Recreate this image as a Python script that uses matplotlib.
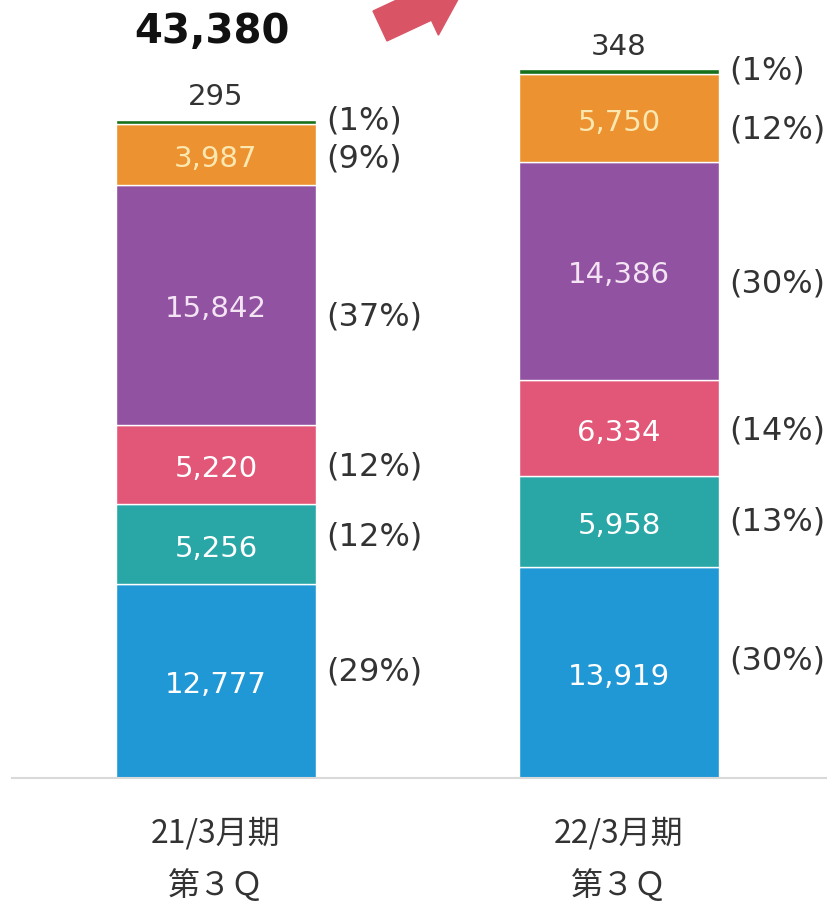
import matplotlib
matplotlib.use("Agg")
import matplotlib.pyplot as plt
from matplotlib.patches import FancyArrow

plt.rcParams["font.family"] = ["DejaVu Sans", "Noto Sans CJK JP"]

# data
periods = ["21/3月期\n第３Ｑ", "22/3月期\n第３Ｑ"]
blue = [12777, 13919]
teal = [5256, 5958]
pink = [5220, 6334]
purple = [15842, 14386]
orange = [3987, 5750]
green = [295, 348]
pct_labels = [
    ["(29%)", "(12%)", "(12%)", "(37%)", "(9%)", "(1%)"],
    ["(30%)", "(13%)", "(14%)", "(30%)", "(12%)", "(1%)"],
]
total_label = "43,380"

series = [blue, teal, pink, purple, orange, green]
colors = ["#2198d6", "#29a6a6", "#e25678", "#9152a2", "#ec9230", "#17701a"]
text_colors = ["#ffffff", "#ffffff", "#ffffff", "#f3e3f3", "#fbe7b0", "#333333"]
# small vertical nudges (points) of the percent labels
pct_nudge = [
    [7, 6, -1, -8, -3, 1],
    [9, 0, -1, -9, -8, 1],
]

W, H = 827, 903
fig = plt.figure(figsize=(W / 100, H / 100), dpi=100)
ax = fig.add_axes([12 / W, 124 / H, 815 / W, 779 / H])

px_per_unit = 403
ax.set_xlim(-204 / px_per_unit, (827 - 216) / px_per_unit)
ax.set_ylim(0, 779 / 0.01518)

x = [0, 1]
bottoms = [0, 0]
for k, (vals, col) in enumerate(zip(series, colors)):
    bars = ax.bar(x, vals, width=200 / px_per_unit, bottom=bottoms, color=col,
                  edgecolor="white", linewidth=1.0, zorder=2)
    for i, b in enumerate(bars):
        cx = b.get_x() + b.get_width() / 2
        cy = b.get_y() + b.get_height() / 2
        right = b.get_x() + b.get_width()
        if k < len(series) - 1:
            ax.annotate(f"{vals[i]:,}", (cx, cy), xytext=(0, -2.5), textcoords="offset points",
                        ha="center", va="center", fontsize=21, color=text_colors[k], zorder=3)
        else:
            ax.annotate(f"{vals[i]:,}", (cx, b.get_y() + b.get_height()),
                        xytext=(0, 17), textcoords="offset points", ha="center",
                        va="center", fontsize=21, color="#333333")
        ax.annotate(pct_labels[i][k], (right, cy), xytext=(7.5, pct_nudge[i][k]),
                    textcoords="offset points", ha="left", va="center",
                    fontsize=23, color="#333333")
    bottoms = [b0 + v for b0, v in zip(bottoms, vals)]

ax.annotate(total_label, (0, bottoms[0]), xytext=(-3, 64), textcoords="offset points",
            ha="center", va="center", fontsize=29, fontweight="bold", color="#111111")

ax.set_xticks(x)
ax.set_xticklabels(periods, fontsize=23, color="#333333", linespacing=1.75,
                   family=["Noto Sans CJK JP", "DejaVu Sans"])
ax.tick_params(axis="x", length=0, pad=27)
ax.set_yticks([])
for s in ["left", "right", "top"]:
    ax.spines[s].set_visible(False)
ax.spines["bottom"].set_color("#d9d9d9")
ax.spines["bottom"].set_linewidth(1.5)

# red arrow partly cut at the top
fig.add_artist(FancyArrow(3.80, 8.76, 0.852, 0.398, width=0.33, head_width=0.66,
                          head_length=0.45, length_includes_head=True,
                          color="#d95566", transform=fig.dpi_scale_trans))

fig.savefig("out.png", dpi=100)
